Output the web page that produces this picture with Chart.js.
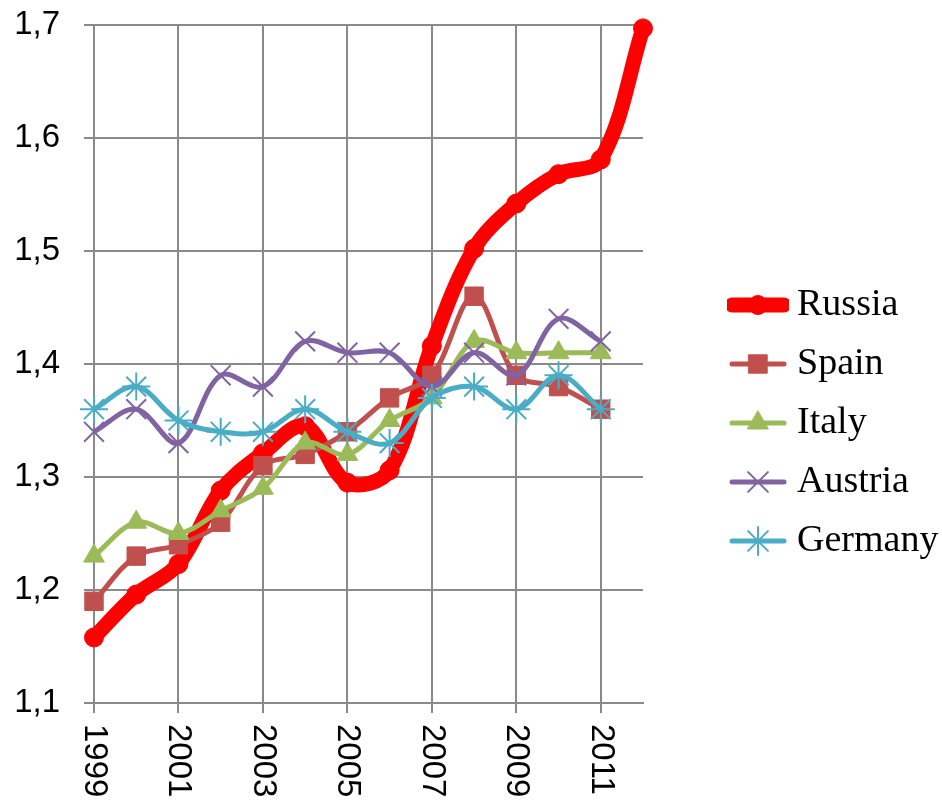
<!DOCTYPE html>
<html>
<head>
  <title>Russia vs Europe</title>
  <style>
    body { margin: 0; background: #fff; }
  </style>
</head>
<body>
  <canvas id="myChart" width="942" height="802"></canvas>
  <script src="https://cdn.jsdelivr.net/npm/chart.js@4/dist/chart.umd.min.js"></script>
  <script>
    // values
    const years = ['1999', '2000', '2001', '2002', '2003', '2004', '2005', '2006', '2007', '2008', '2009', '2010', '2011', '2012'];
    const yearLabels = ['1999', '2001', '2003', '2005', '2007', '2009', '2011'];
    const russia = [1.158, 1.196, 1.223, 1.288, 1.321, 1.345, 1.295, 1.306, 1.416, 1.502, 1.542, 1.568, 1.581, 1.697];
    const spain = [1.19, 1.23, 1.24, 1.26, 1.31, 1.32, 1.34, 1.37, 1.39, 1.46, 1.39, 1.38, 1.36, null];
    const italy = [1.23, 1.26, 1.25, 1.27, 1.29, 1.33, 1.32, 1.35, 1.37, 1.42, 1.41, 1.41, 1.41, null];
    const austria = [1.34, 1.36, 1.33, 1.39, 1.38, 1.42, 1.41, 1.41, 1.38, 1.41, 1.39, 1.44, 1.42, null];
    const germany = [1.36, 1.38, 1.35, 1.34, 1.34, 1.36, 1.34, 1.33, 1.37, 1.38, 1.36, 1.39, 1.36, null];

    const gridGray = '#8a8a8a';
    Chart.defaults.font.family = '"Liberation Sans", sans-serif';
    Chart.defaults.color = '#000';

    function series(label, data, color, lineWidth, style, radius, pointBorder, order) {
      return {
        label: label,
        data: data,
        borderColor: color,
        backgroundColor: color,
        borderWidth: lineWidth,
        pointStyle: style,
        pointRadius: radius,
        pointHoverRadius: radius,
        pointBorderWidth: pointBorder,
        pointBackgroundColor: color,
        pointBorderColor: color,
        tension: 0.35,
        clip: false,
        order: order
      };
    }

    const datasets = [
      series('Russia', russia, '#ff0000', 15, 'circle', 9.5, 1, 5),
      series('Spain', spain, '#c0504d', 5, 'rect', 13, 1, 4),
      series('Italy', italy, '#9bbb59', 5, 'triangle', 12, 1, 3),
      series('Austria', austria, '#8064a2', 5, 'crossRot', 14, 2, 2),
      series('Germany', germany, '#4bacc6', 5, 'star', 14, 2, 1)
    ];

    // little line+marker pictures for the legend
    const legendImgs = datasets.map(ds => {
      const c = document.createElement('canvas');
      c.width = 62; c.height = 30;
      const g = c.getContext('2d');
      g.strokeStyle = ds.borderColor;
      g.lineWidth = ds.borderWidth;
      g.lineCap = 'round';
      g.beginPath(); g.moveTo(5, 15); g.lineTo(57, 15); g.stroke();
      g.fillStyle = ds.pointBackgroundColor;
      g.strokeStyle = ds.pointBorderColor;
      g.lineWidth = ds.pointBorderWidth;
      Chart.helpers.drawPoint(g, {pointStyle: ds.pointStyle, radius: ds.pointRadius, borderWidth: ds.pointBorderWidth, rotation: 0}, 31, 15);
      return c;
    });

    // x labels read top to bottom, drawn at the category positions
    const xLabelPlugin = {
      id: 'xLabelsDown',
      afterDraw(chart) {
        const xs = chart.scales.x;
        const ctx = chart.ctx;
        ctx.save();
        ctx.font = '33px "Liberation Sans"';
        ctx.fillStyle = '#000';
        ctx.textAlign = 'left';
        ctx.textBaseline = 'middle';
        years.forEach((yr, i) => {
          if (!yearLabels.includes(yr)) return;
          ctx.save();
          ctx.translate(xs.getPixelForValue(i), xs.top + 21);
          ctx.rotate(Math.PI / 2);
          ctx.fillText(yr, 0, 0);
          ctx.restore();
        });
        ctx.restore();
      }
    };

    new Chart(document.getElementById('myChart'), {
      type: 'line',
      data: { labels: years, datasets: datasets },
      plugins: [xLabelPlugin],
      options: {
        responsive: false,
        animation: false,
        layout: { padding: { top: 25, left: 0, right: 0, bottom: 89 } },
        plugins: {
          tooltip: { enabled: false },
          legend: {
            position: 'right',
            maxWidth: 225,
            title: { display: true, text: ' ', padding: { top: 96, bottom: 0 }, font: { size: 10 } },
            labels: {
              usePointStyle: true,
              pointStyleWidth: 40,
              padding: 21,
              color: '#000',
              font: { family: '"Liberation Serif", serif', size: 38 },
              sort: (a, b) => a.datasetIndex - b.datasetIndex,
              generateLabels: chart => {
                const items = Chart.defaults.plugins.legend.labels.generateLabels(chart);
                items.forEach(it => { it.pointStyle = legendImgs[it.datasetIndex]; it.rotation = 0; });
                return items;
              }
            }
          }
        },
        scales: {
          x: {
            grid: {
              color: c => (c.index % 2 === 0 ? gridGray : 'rgba(0,0,0,0)'),
              lineWidth: 2,
              tickLength: 10
            },
            border: { color: gridGray, width: 2 },
            ticks: { display: false }
          },
          y: {
            min: 1.1,
            max: 1.7,
            grid: { color: gridGray, lineWidth: 2, tickLength: 10 },
            border: { color: gridGray, width: 2 },
            ticks: {
              stepSize: 0.1,
              padding: 24,
              font: { size: 33 },
              callback: v => v.toFixed(1).replace('.', ',')
            },
            afterFit: s => { s.width = 94; s.paddingTop = 0; s.paddingBottom = 0; }
          },
          // empty spacer between plot and legend
          gap: {
            type: 'linear',
            position: 'right',
            grid: { display: false },
            border: { display: false },
            ticks: { display: false },
            afterFit: s => { s.width = 74; }
          }
        }
      }
    });
  </script>
</body>
</html>
